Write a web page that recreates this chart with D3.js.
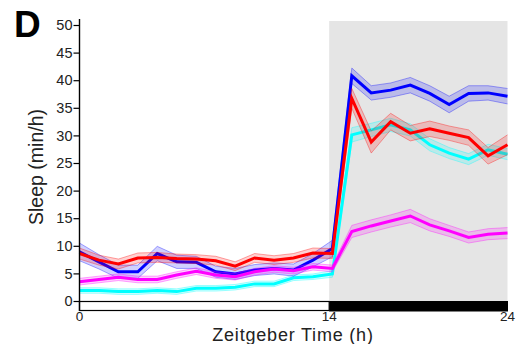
<!DOCTYPE html>
<html lang="en">
<meta charset="utf-8"/>
<head>
<script src="https://cdn.jsdelivr.net/npm/d3@7"></script>
</head>
<style>
  body { margin: 0; background: #fff; }
  text { font-family: "Liberation Sans", Arial, sans-serif; fill: #222; }
  .axis path, .axis line { stroke: #000; }
</style>
<body>
<script>
// sampling times (h), 23 bins over 24 h
var hours = [0, 1.09, 2.18, 3.27, 4.36, 5.45, 6.55, 7.64, 8.73, 9.82, 10.91, 12,
             13.09, 14.18, 15.27, 16.36, 17.45, 18.55, 19.64, 20.73, 21.82, 22.91, 24];

var blueVals = [8.9, 7.1, 5.3, 5.3, 8.6, 7.1, 7.0, 5.3, 4.9, 5.6, 5.9, 5.6, 7.4, 9.5,
                40.8, 37.7, 38.2, 39.1, 37.6, 35.6, 37.6, 37.7, 37.1];
var blueErr  = [1.6, 1.3, 1.2, 1.2, 1.3, 1.2, 1.1, 1.0, 1.0, 1.0, 1.0, 1.1, 1.2, 1.5,
                1.4, 1.3, 1.3, 1.4, 1.4, 1.5, 1.4, 1.3, 1.4];
var redVals  = [8.6, 7.4, 6.7, 7.8, 7.9, 7.7, 7.6, 7.3, 6.3, 7.8, 7.4, 7.8, 8.7, 8.6,
                36.7, 28.8, 32.5, 30.4, 31.2, 30.4, 29.6, 26.3, 28.3];
var redErr   = [1.0, 0.9, 0.9, 0.9, 0.9, 0.8, 0.8, 0.8, 0.8, 0.8, 0.8, 0.8, 0.9, 0.9,
                1.8, 2.0, 1.5, 1.4, 1.4, 1.3, 1.4, 1.5, 1.8];
var cyanVals = [1.9, 1.9, 1.7, 1.7, 1.9, 1.7, 2.3, 2.3, 2.5, 3.1, 3.1, 4.2, 4.4, 4.9,
                30.1, 31.0, 31.9, 31.0, 28.3, 26.8, 25.7, 27.4, 26.6];
var cyanErr  = [0.5, 0.5, 0.5, 0.5, 0.5, 0.5, 0.5, 0.5, 0.5, 0.5, 0.5, 0.5, 0.5, 0.6,
                1.3, 1.2, 1.2, 1.1, 1.1, 1.0, 1.0, 1.0, 1.0];
var magVals  = [3.5, 3.9, 4.3, 3.9, 3.9, 4.7, 5.4, 4.7, 4.4, 5.3, 5.8, 5.5, 6.2, 5.9,
                12.6, 13.6, 14.5, 15.4, 13.8, 12.7, 11.5, 12.1, 12.3];
var magErr   = [0.6, 0.6, 0.6, 0.6, 0.6, 0.6, 0.6, 0.6, 0.6, 0.6, 0.6, 0.6, 0.6, 0.6,
                1.1, 1.1, 1.1, 1.2, 1.1, 1.0, 1.0, 1.0, 1.0];

var yTicks = [0, 5, 10, 15, 20, 25, 30, 35, 40, 45, 50];
var xTicks = [0, 14, 24];
var lightsOff = 14;

var W = 516, H = 344;
var svg = d3.select("body").append("svg")
    .attr("width", W)
    .attr("height", H);

var x = d3.scaleLinear().domain([0, 24]).range([79.5, 507.5]);
var y = d3.scaleLinear().domain([0, 50]).range([301, 25]);

// dark phase shading
svg.append("rect")
    .attr("x", x(lightsOff))
    .attr("y", 21)
    .attr("width", x(24) - x(lightsOff))
    .attr("height", y(0) - 21)
    .attr("fill", "#e5e5e5");

var series = [
  {vals: cyanVals, err: cyanErr, col: "#00ffff"},
  {vals: blueVals, err: blueErr, col: "#0000ff"},
  {vals: magVals,  err: magErr,  col: "#ff00ff"},
  {vals: redVals,  err: redErr,  col: "#ff0000"}
];

var area = d3.area()
    .x(function(d) { return x(d.t); })
    .y0(function(d) { return y(d.v - d.e); })
    .y1(function(d) { return y(d.v + d.e); });
var line = d3.line()
    .x(function(d) { return x(d.t); })
    .y(function(d) { return y(d.v); });

series.forEach(function(s) {
  var pts = hours.map(function(t, i) { return {t: t, v: s.vals[i], e: s.err[i]}; });
  svg.append("path").datum(pts)
      .attr("d", area)
      .attr("fill", s.col)
      .attr("fill-opacity", 0.18);
  svg.append("path").datum(pts)
      .attr("d", line.y(function(d) { return y(d.v + d.e); }))
      .attr("fill", "none").attr("stroke", s.col).attr("stroke-opacity", 0.35).attr("stroke-width", 1);
  svg.append("path").datum(pts)
      .attr("d", line.y(function(d) { return y(d.v - d.e); }))
      .attr("fill", "none").attr("stroke", s.col).attr("stroke-opacity", 0.35).attr("stroke-width", 1);
  svg.append("path").datum(pts)
      .attr("d", line.y(function(d) { return y(d.v); }))
      .attr("fill", "none").attr("stroke", s.col).attr("stroke-width", 3)
      .attr("stroke-linejoin", "miter");
});

// light/dark bar
svg.append("rect")
    .attr("x", x(0)).attr("y", 301.5)
    .attr("width", x(lightsOff) - x(0)).attr("height", 9)
    .attr("fill", "#fff").attr("stroke", "#000").attr("stroke-width", 1.2);
svg.append("rect")
    .attr("x", x(lightsOff)).attr("y", 301)
    .attr("width", x(24) - x(lightsOff) + 0.5).attr("height", 10.5)
    .attr("fill", "#000");

// y axis
var yAxis = svg.append("g")
    .attr("class", "axis")
    .attr("transform", "translate(" + x(0) + ",0)")
    .call(d3.axisLeft(y).tickValues(yTicks).tickSize(6).tickPadding(1));
yAxis.select(".domain").remove();
yAxis.selectAll("text").style("font-size", "14.5px").attr("fill", "#222");
yAxis.selectAll("line").attr("stroke-width", 1.2);
svg.append("line")
    .attr("x1", x(0)).attr("x2", x(0))
    .attr("y1", 19).attr("y2", 311)
    .attr("stroke", "#000").attr("stroke-width", 1.4);

// x tick labels
svg.selectAll(".xlab")
    .data(xTicks).enter()
    .append("text")
    .attr("class", "xlab")
    .attr("x", function(d) { return x(d); })
    .attr("y", 321)
    .attr("text-anchor", "middle")
    .style("font-size", "13.5px")
    .text(function(d) { return d; });

svg.append("text")
    .attr("x", 293)
    .attr("y", 340.5)
    .attr("text-anchor", "middle")
    .style("font-size", "18px")
    .style("letter-spacing", "0.8px")
    .text("Zeitgeber Time (h)");

svg.append("text")
    .attr("transform", "translate(43,167) rotate(-90)")
    .attr("text-anchor", "middle")
    .style("font-size", "19.5px")
    .text("Sleep (min/h)");

svg.append("text")
    .attr("x", 14)
    .attr("y", 37)
    .style("font-size", "37px")
    .style("font-weight", "bold")
    .attr("fill", "#000")
    .style("fill", "#000")
    .text("D");
</script>
</body>
</html>
